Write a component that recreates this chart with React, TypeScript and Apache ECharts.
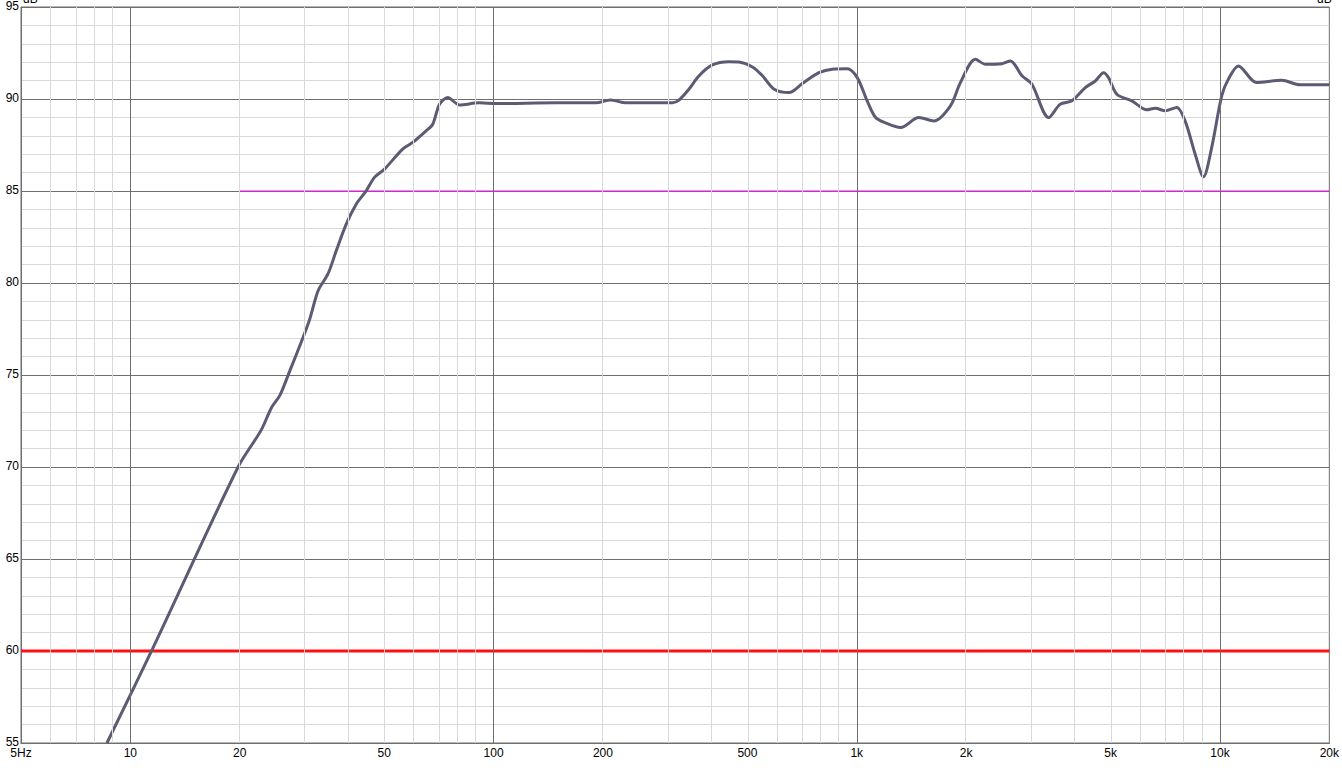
import React, { useEffect, useRef } from "react";
import * as echarts from "echarts";

const freqs = [8.62, 11.5, 19.8, 22.9, 24.5, 25.8, 27.5, 29.9, 31.2, 32.9, 35.0, 36.9, 39.3, 41.9, 44.6, 47.0, 50.1, 56.2, 59.9, 65.2, 68.0, 71.0, 74.8, 80.5, 91.4, 101.6, 148.6, 191.4, 210, 231, 311, 324, 345, 368, 400, 445, 474, 516, 550, 592, 651, 708, 787, 856, 941, 1003, 1068, 1127, 1200, 1320, 1482, 1630, 1811, 1929, 2122, 2260, 2510, 2648, 2850, 3035, 3376, 3633, 3911, 4258, 4536, 4781, 4934, 5200, 5719, 6290, 6634, 7066, 7604, 8016, 8545, 9005, 9487, 10110, 10547, 11235, 12614, 14776, 16610, 20000];
const spl = [55, 60.1, 70.0, 71.99, 73.25, 73.89, 75.24, 77.05, 78.05, 79.59, 80.49, 81.76, 83.2, 84.29, 85.01, 85.74, 86.19, 87.28, 87.64, 88.27, 88.63, 89.72, 90.08, 89.68, 89.79, 89.75, 89.8, 89.79, 89.95, 89.79, 89.8, 89.94, 90.53, 91.26, 91.85, 92.03, 92.01, 91.74, 91.26, 90.53, 90.35, 90.84, 91.43, 91.62, 91.64, 91.16, 89.9, 88.99, 88.7, 88.45, 88.99, 88.81, 89.63, 90.89, 92.16, 91.89, 91.92, 92.07, 91.26, 90.8, 88.99, 89.72, 89.9, 90.62, 90.98, 91.43, 91.16, 90.26, 89.9, 89.41, 89.5, 89.36, 89.54, 88.81, 87.0, 85.77, 87.36, 90.17, 91.08, 91.8, 90.89, 91.02, 90.77, 90.77];

const xTickFreqs = [5, 10, 20, 50, 100, 200, 500, 1000, 2000, 5000, 10000, 20000];
const xTickLabels = ["5Hz", "10", "20", "50", "100", "200", "500", "1k", "2k", "5k", "10k", "20k"];
const majorGridFreqs = [10, 100, 1000, 10000];
const minorGridFreqs = [6, 7, 8, 9, 20, 30, 40, 50, 60, 70, 80, 90, 200, 300, 400, 500, 600, 700, 800, 900, 2000, 3000, 4000, 5000, 6000, 7000, 8000, 9000];

const fMin = 5;
const fMax = 20000;
const refLevel = 60;
const targetLevel = 85;
const targetStart = 20;

const lg = (f: number) => Math.log10(f);

export default function App() {
  const ref = useRef<HTMLDivElement>(null);
  useEffect(() => {
    if (!ref.current) return;
    const chart = echarts.init(ref.current, null, { renderer: "svg" });
    const tickVals = xTickFreqs.map(lg);
    const labelFor = (v: number) => {
      let best = 0;
      let bd = Infinity;
      tickVals.forEach((t, i) => {
        const d = Math.abs(t - v);
        if (d < bd) { bd = d; best = i; }
      });
      return xTickLabels[best];
    };
    const gridLine = (f: number, color: string) => ({
      xAxis: lg(f),
      lineStyle: { color, width: 1, type: "solid" },
    });
    chart.setOption({
      animation: false,
      backgroundColor: "#ffffff",
      textStyle: { fontFamily: "Liberation Sans, Arial, sans-serif" },
      grid: { left: 21, top: 6, right: 10, bottom: 32, containLabel: false, show: true, borderColor: "#6e6e6e", borderWidth: 1, backgroundColor: "#ffffff" },
      graphic: [
        { type: "text", left: 23, top: -7, style: { text: "dB", fontSize: 12, fill: "#000", fontFamily: "Liberation Sans, Arial, sans-serif" } },
        { type: "text", left: 1317, top: -7, style: { text: "dB", fontSize: 12, fill: "#000", fontFamily: "Liberation Sans, Arial, sans-serif" } },
      ],
      xAxis: {
        type: "value",
        min: lg(fMin),
        max: lg(fMax),
        axisLine: { show: true, lineStyle: { color: "#6e6e6e", width: 1 } },
        axisTick: { show: false },
        splitLine: { show: false },
        axisLabel: {
          customValues: tickVals,
          formatter: (v: number) => labelFor(v),
          color: "#000",
          fontSize: 12,
          margin: 4,
          fontFamily: "Liberation Sans, Arial, sans-serif",
        },
      },
      yAxis: {
        type: "value",
        min: 55,
        max: 95,
        interval: 5,
        axisLine: { show: true, lineStyle: { color: "#6e6e6e", width: 1 } },
        axisTick: { show: false },
        minorTick: { show: false, splitNumber: 5 },
        splitLine: { show: true, lineStyle: { color: "#6e6e6e", width: 1 } },
        minorSplitLine: { show: true, lineStyle: { color: "#d9d9d9", width: 1 } },
        axisLabel: { color: "#000", fontSize: 12, margin: 2, fontFamily: "Liberation Sans, Arial, sans-serif", verticalAlign: "bottom", lineHeight: 12, padding: [0, 0, -5, 0] },
      },
      series: [
        {
          type: "line",
          name: "grid",
          data: [],
          silent: true,
          z: 1,
          markLine: {
            silent: true,
            symbol: ["none", "none"],
            label: { show: false },
            animation: false,
            data: [
              ...minorGridFreqs.map((f) => gridLine(f, "#d9d9d9")),
              ...majorGridFreqs.map((f) => gridLine(f, "#6e6e6e")),
            ],
          },
        },
        {
          type: "line",
          name: "ref",
          data: [[lg(fMin), refLevel], [lg(fMax), refLevel]],
          showSymbol: false,
          silent: true,
          z: 2,
          lineStyle: { color: "#ff1010", width: 3 },
        },
        {
          type: "line",
          name: "target",
          data: [[lg(targetStart), targetLevel], [lg(fMax), targetLevel]],
          showSymbol: false,
          silent: true,
          z: 2,
          lineStyle: { color: "#ff00ff", width: 1 },
        },
        {
          type: "line",
          name: "response",
          data: freqs.map((f, i) => [lg(f), spl[i]]),
          showSymbol: false,
          smooth: 0.3,
          silent: true,
          z: 3,
          lineStyle: { color: "#5b5b73", width: 3 },
        },
      ],
    });
    return () => chart.dispose();
  }, []);
  return <div ref={ref} style={{ position: "fixed", left: 0, top: 0, width: 1342, height: 775 }} />;
}
